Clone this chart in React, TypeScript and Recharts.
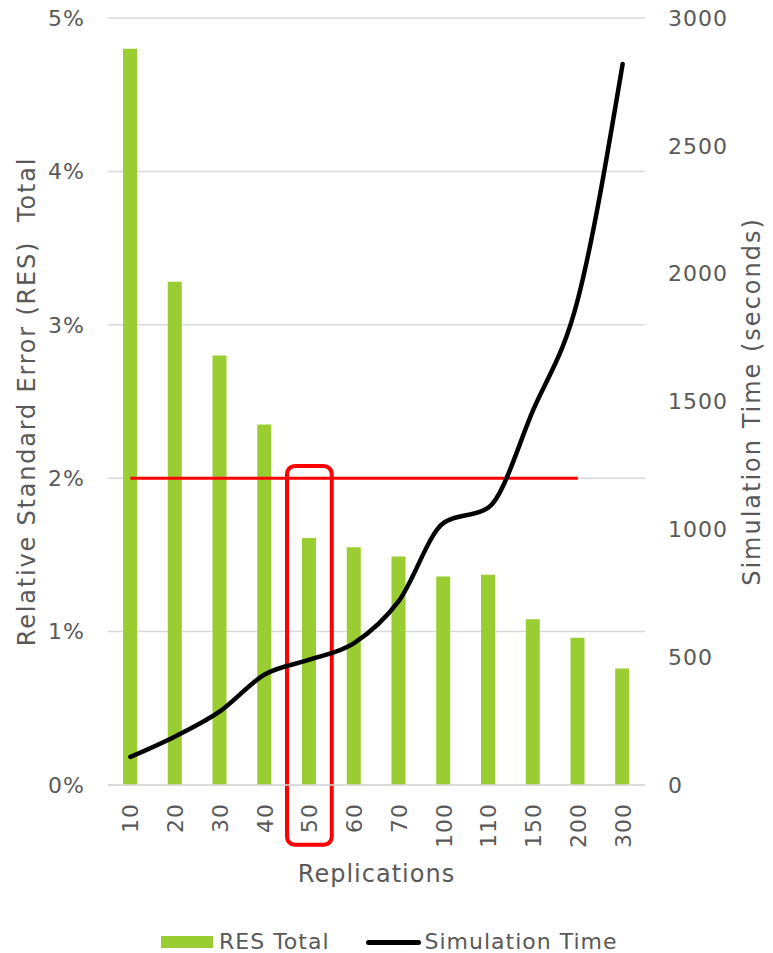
import { ComposedChart, Bar, Line, XAxis, YAxis, CartesianGrid, Legend, ReferenceArea } from 'recharts';

const replications = ['10', '20', '30', '40', '50', '60', '70', '100', '110', '150', '200', '300'];
const resTotal = [0.048, 0.0328, 0.028, 0.0235, 0.0161, 0.0155, 0.0149, 0.0136, 0.0137, 0.0108, 0.0096, 0.0076];
const simulationTime = [110, 190, 288, 432, 490, 555, 720, 1025, 1085, 1466, 1900, 2820];
const targetLevel = [0.02, 0.02, 0.02, 0.02, 0.02, 0.02, 0.02, 0.02, 0.02, 0.02, 0.02, null];
const leftTicks = [0, 0.01, 0.02, 0.03, 0.04, 0.05];
const rightTicks = [0, 500, 1000, 1500, 2000, 2500, 3000];

const data = replications.map((r, i) => ({
  rep: r,
  res: resTotal[i],
  time: simulationTime[i],
  target: targetLevel[i],
}));

const FONT = '"DejaVu Sans", Verdana, sans-serif';
const GREY = '#595959';
const GREEN = '#9ACD32';

const XTick = (props: any) => {
  const { x, y, payload } = props;
  return (
    <text
      transform={`translate(${x},${y + 10}) rotate(-90)`}
      textAnchor="end"
      dy="0.36em"
      fill={GREY}
      fontSize={22}
      fontFamily={FONT}
      letterSpacing={1}
    >
      {payload.value}
    </text>
  );
};

const LegendBox = () => (
  <div
    style={{
      display: 'flex',
      alignItems: 'center',
      paddingLeft: 161,
      height: 55,
      paddingTop: 33,
      boxSizing: 'border-box',
      fontFamily: FONT,
      fontSize: 22,
      lineHeight: '22px',
      letterSpacing: 1,
      color: GREY,
    }}
  >
    <span style={{ width: 52, height: 12, background: GREEN, display: 'inline-block', marginRight: 6 }} />
    <span style={{ marginRight: 36 }}>RES Total</span>
    <span style={{ width: 55, height: 5, borderRadius: 3, background: '#000', display: 'inline-block', marginRight: 4 }} />
    <span>Simulation Time</span>
  </div>
);

export default function App() {
  const tickStyle = { fill: GREY, fontSize: 22, fontFamily: FONT, letterSpacing: 1 };
  return (
    <div style={{ position: 'absolute', left: 0, top: 0, width: 773, height: 953, background: '#fff' }}>
      <ComposedChart
        width={773}
        height={953}
        data={data}
        margin={{ top: 18, right: 0, bottom: 0, left: 0 }}
        barCategoryGap={0}
      >
        <CartesianGrid yAxisId="left" vertical={false} stroke="#d9d9d9" strokeWidth={1.5} />
        <XAxis
          dataKey="rep"
          height={113}
          tick={<XTick />}
          tickLine={false}
          axisLine={{ stroke: '#d9d9d9', strokeWidth: 1.5 }}
          interval={0}
          label={{
            value: 'Replications',
            position: 'insideBottom',
            offset: 16,
            fill: GREY,
            fontSize: 24,
            fontFamily: FONT,
            letterSpacing: 1,
          }}
        />
        <YAxis
          yAxisId="left"
          width={108}
          domain={[0, 0.05]}
          ticks={leftTicks}
          tickFormatter={(v: number) => `${Math.round(v * 100)}%`}
          tick={tickStyle}
          tickLine={false}
          axisLine={false}
          tickMargin={17}
          label={{
            value: 'Relative Standard Error (RES)\u00A0\u00A0Total',
            angle: -90,
            position: 'insideLeft',
            offset: 26,
            style: { textAnchor: 'middle' },
            fill: GREY,
            fontSize: 24,
            fontFamily: FONT,
            letterSpacing: 1.8,
          }}
        />
        <YAxis
          yAxisId="right"
          orientation="right"
          width={128}
          domain={[0, 3000]}
          ticks={rightTicks}
          tick={tickStyle}
          tickLine={false}
          axisLine={false}
          tickMargin={17}
          label={{
            value: 'Simulation Time (seconds)',
            angle: -90,
            position: 'insideRight',
            offset: 22,
            style: { textAnchor: 'middle' },
            fill: GREY,
            fontSize: 24,
            fontFamily: FONT,
            letterSpacing: 2,
          }}
        />
        <Legend verticalAlign="bottom" height={55} content={<LegendBox />} />
        <Bar yAxisId="left" dataKey="res" name="RES Total" fill={GREEN} barSize={14} isAnimationActive={false} />
        <Line
          yAxisId="left"
          dataKey="target"
          stroke="#ff0000"
          strokeWidth={3}
          dot={false}
          isAnimationActive={false}
          legendType="none"
        />
        <Line
          yAxisId="right"
          type="monotone"
          dataKey="time"
          name="Simulation Time"
          stroke="#000"
          strokeWidth={4.5}
          strokeLinecap="round"
          dot={false}
          isAnimationActive={false}
        />
        <ReferenceArea
          yAxisId="left"
          x1="50"
          x2="50"
          y1={-0.0039}
          y2={0.0208}
          ifOverflow="visible"
          fill="none"
          stroke="#ff0000"
          strokeWidth={4}
          radius={8}
        />
      </ComposedChart>
    </div>
  );
}
